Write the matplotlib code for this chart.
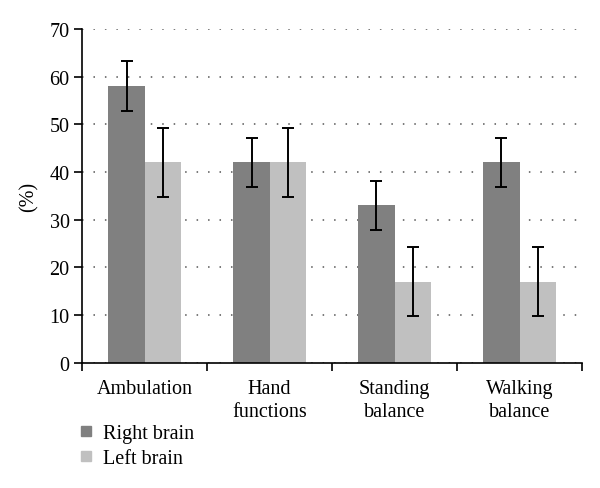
import numpy as np
import matplotlib
matplotlib.use("Agg")
import matplotlib.pyplot as plt
from matplotlib.lines import Line2D

categories = ["Ambulation", "Hand\nfunctions", "Standing\nbalance", "Walking\nbalance"]
right_brain = [58, 42, 33, 42]
left_brain = [42, 42, 17, 17]
right_err = [5.2, 5.2, 5.2, 5.2]
left_err = [7.2, 7.2, 7.2, 7.2]
series_names = ["Right brain", "Left brain"]
yticks = [0, 10, 20, 30, 40, 50, 60, 70]

plt.rcParams['font.family'] = ['Liberation Serif', 'DejaVu Serif']

fig = plt.figure(figsize=(6, 4.89), dpi=100)
ax = fig.add_axes([0.137, 0.256, 0.833, 0.683])

x = np.arange(len(categories))
w = 0.29
dark = "#808080"
light = "#c0c0c0"

ax.set_axisbelow(True)
ax.yaxis.grid(True, color="#555555", linestyle=(0, (1, 6.5)), linewidth=1.1)

ekw = dict(ecolor="black", elinewidth=1.4, capsize=4, capthick=1.4)
ax.bar(x - w/2, right_brain, w, color=dark, yerr=right_err, error_kw=ekw, zorder=2)
ax.bar(x + w/2, left_brain, w, color=light, yerr=left_err, error_kw=ekw, zorder=2)

ax.set_xlim(-0.5, len(categories) - 0.5)
ax.set_ylim(0, 70)
ax.set_yticks(yticks)
ax.set_xticks(x)
ax.set_xticklabels(categories, fontsize=14.5, linespacing=1.25)
ax.set_xticks(np.arange(len(categories) + 1) - 0.5, minor=True)
ax.tick_params(axis="x", which="major", length=0, pad=12)
ax.tick_params(axis="x", which="minor", length=6, width=1.2, direction="out")
ax.tick_params(axis="y", length=6, width=1.2, direction="out", labelsize=14.5, pad=3)

for s in ["top", "right"]:
    ax.spines[s].set_visible(False)
for s in ["left", "bottom"]:
    ax.spines[s].set_linewidth(1.2)

ax.set_ylabel("(%)", fontsize=14.5, labelpad=8)

handles = [Line2D([], [], marker="s", linestyle="", color=dark, markersize=6.5),
           Line2D([], [], marker="s", linestyle="", color=light, markersize=6.5)]
ax.legend(handles, series_names, loc="upper left", bbox_to_anchor=(-0.053, -0.13),
          frameon=False, fontsize=14.5, handletextpad=0.25, labelspacing=0.28,
          handlelength=1.2)

fig.savefig("out.png", dpi=100)
